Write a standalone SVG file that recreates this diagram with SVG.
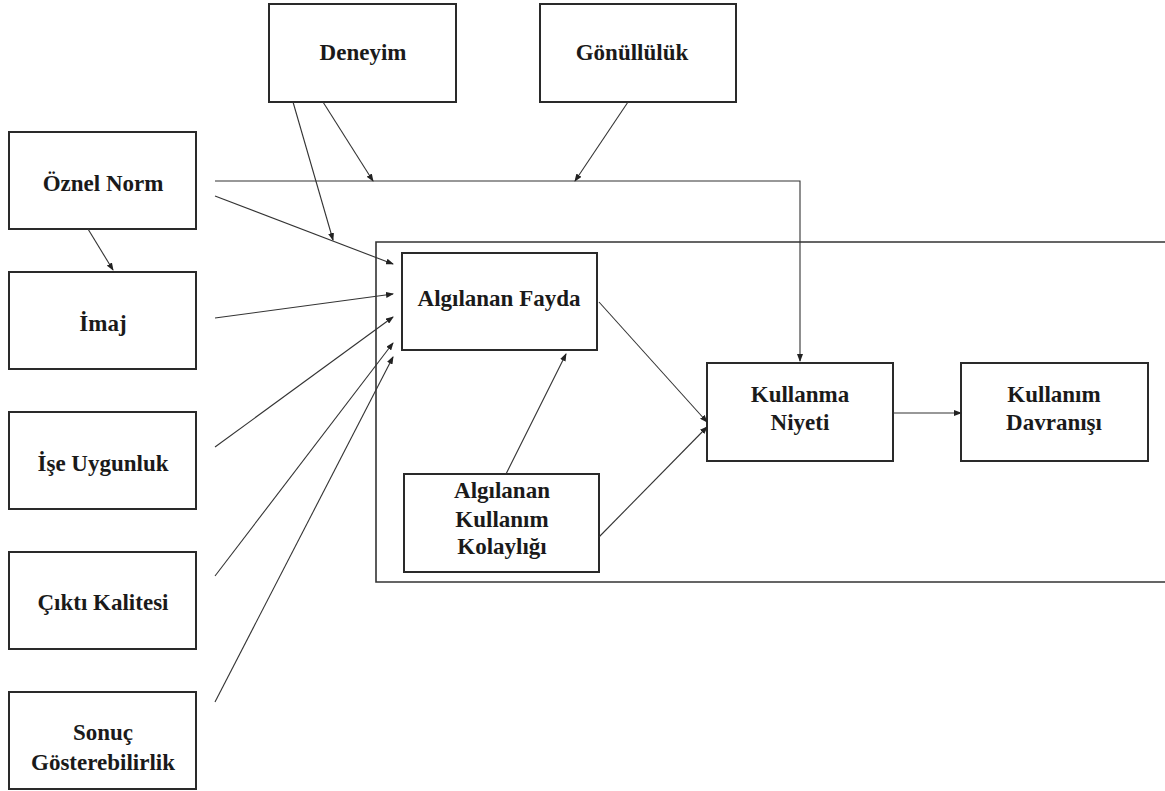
<svg xmlns="http://www.w3.org/2000/svg" width="1165" height="791" viewBox="0 0 1165 791">
<style>
.box{fill:#fff;stroke:#2a2a2a;stroke-width:2}
.lbl{font-family:"Liberation Serif","Times New Roman",serif;font-weight:bold;font-size:23px;fill:#1a1a1a;text-anchor:middle}
.c{fill:none;stroke:#333;stroke-width:1.1}
</style>
<defs>
<marker id="ah" markerUnits="userSpaceOnUse" markerWidth="8" markerHeight="6" refX="7" refY="3" orient="auto">
<path d="M0,0 L8,3 L0,6 z" fill="#222"/>
</marker>
</defs>
<rect width="1165" height="791" fill="#fff"/>
<path d="M1170,242 H376 V582 H1170" fill="none" stroke="#333" stroke-width="1.6"/>
<g id="n-deneyim"><rect class="box" x="269" y="4" width="187" height="98"/><text class="lbl" x="363" y="60">Deneyim</text></g>
<g id="n-gonulluluk"><rect class="box" x="540" y="4" width="196" height="98"/><text class="lbl" x="632" y="60">Gönüllülük</text></g>
<g id="n-oznel"><rect class="box" x="9" y="132" width="187" height="97"/><text class="lbl" x="103" y="191">Öznel Norm</text></g>
<g id="n-imaj"><rect class="box" x="9" y="272" width="187" height="97"/><text class="lbl" x="103" y="331">İmaj</text></g>
<g id="n-ise"><rect class="box" x="9" y="412" width="187" height="97"/><text class="lbl" x="103" y="471">İşe Uygunluk</text></g>
<g id="n-cikti"><rect class="box" x="9" y="552" width="187" height="97"/><text class="lbl" x="103" y="610">Çıktı Kalitesi</text></g>
<g id="n-sonuc"><rect class="box" x="9" y="692" width="187" height="97"/><text class="lbl" x="103" y="740">Sonuç</text><text class="lbl" x="103" y="770">Gösterebilirlik</text></g>
<g id="n-fayda"><rect class="box" x="402" y="253" width="195" height="97"/><text class="lbl" x="499" y="306">Algılanan Fayda</text></g>
<g id="n-kolaylik"><rect class="box" x="404" y="474" width="195" height="98"/><text class="lbl" x="502" y="498">Algılanan</text><text class="lbl" x="502" y="527">Kullanım</text><text class="lbl" x="502" y="554">Kolaylığı</text></g>
<g id="n-niyet"><rect class="box" x="707" y="363" width="186" height="98"/><text class="lbl" x="800" y="402">Kullanma</text><text class="lbl" x="800" y="430">Niyeti</text></g>
<g id="n-davranis"><rect class="box" x="961" y="363" width="187" height="98"/><text class="lbl" x="1054" y="402">Kullanım</text><text class="lbl" x="1054" y="430">Davranışı</text></g>
<g id="connectors">
<path class="c" d="M215,181 H800 V361" marker-end="url(#ah)"/>
<line class="c" x1="293" y1="102" x2="333" y2="240" marker-end="url(#ah)"/>
<line class="c" x1="323" y1="102" x2="373" y2="181" marker-end="url(#ah)"/>
<line class="c" x1="628" y1="102" x2="575" y2="181" marker-end="url(#ah)"/>
<line class="c" x1="88" y1="229" x2="113" y2="270" marker-end="url(#ah)"/>
<line class="c" x1="215" y1="196" x2="393" y2="264" marker-end="url(#ah)"/>
<line class="c" x1="215" y1="318" x2="393" y2="294" marker-end="url(#ah)"/>
<line class="c" x1="215" y1="447" x2="393" y2="317" marker-end="url(#ah)"/>
<line class="c" x1="215" y1="576" x2="393" y2="343" marker-end="url(#ah)"/>
<line class="c" x1="215" y1="702" x2="393" y2="357" marker-end="url(#ah)"/>
<line class="c" x1="506" y1="474" x2="566" y2="354" marker-end="url(#ah)"/>
<line class="c" x1="599" y1="302" x2="707" y2="422" marker-end="url(#ah)"/>
<line class="c" x1="599" y1="537" x2="707" y2="427" marker-end="url(#ah)"/>
<line class="c" x1="893" y1="413" x2="961" y2="413" marker-end="url(#ah)"/>
</g>
</svg>
